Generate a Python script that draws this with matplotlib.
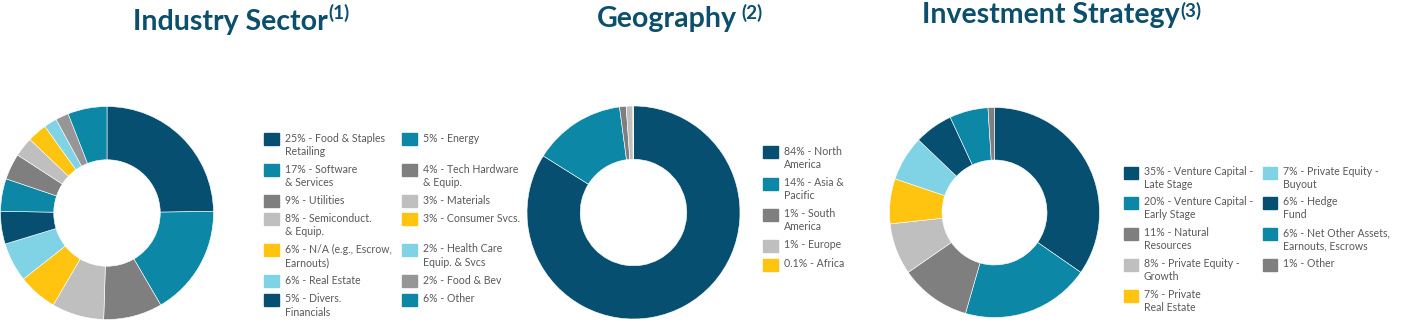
import matplotlib
matplotlib.use("Agg")
import matplotlib.pyplot as plt
from matplotlib.patches import Rectangle

W, H = 1405, 328
TITLE_COLOR = "#0B4F6C"
TEXT_COLOR = "#595959"

NAVY = "#064F71"
TEAL = "#0C87A5"
GRAY = "#7F7F7F"
LGRAY = "#BFBFBF"
YELLOW = "#FFC40F"
LBLUE = "#80D2E5"
MGRAY = "#969696"

# ---- data ----
industry_labels = ["25% - Food & Staples\nRetailing", "17% - Software\n& Services", "9% - Utilities",
                   "8% - Semiconduct.\n& Equip.", "6% - N/A (e.g., Escrow,\nEarnouts)", "6% - Real Estate",
                   "5% - Divers.\nFinancials", "5% - Energy", "4% - Tech Hardware\n& Equip.",
                   "3% - Materials", "3% - Consumer Svcs.", "2% - Health Care\nEquip. & Svcs",
                   "2% - Food & Bev", "6% - Other"]
industry_values = [25, 17, 9, 8, 6, 6, 5, 5, 4, 3, 3, 2, 2, 6]
industry_colors = [NAVY, TEAL, GRAY, LGRAY, YELLOW, LBLUE, NAVY, TEAL, GRAY, LGRAY, YELLOW, LBLUE, MGRAY, TEAL]

geo_labels = ["84% - North\nAmerica", "14% - Asia &\nPacific", "1% - South\nAmerica", "1% - Europe", "0.1% - Africa"]
geo_values = [84, 14, 1, 1, 0.1]
geo_colors = [NAVY, TEAL, GRAY, LGRAY, YELLOW]

strategy_labels = ["35% - Venture Capital -\nLate Stage", "20% - Venture Capital -\nEarly Stage",
                   "11% - Natural\nResources", "8% - Private Equity -\nGrowth", "7% - Private\nReal Estate",
                   "7% - Private Equity -\nBuyout", "6% - Hedge\nFund", "6% - Net Other Assets,\nEarnouts, Escrows",
                   "1% - Other"]
strategy_values = [35, 20, 11, 8, 7, 7, 6, 6, 1]
strategy_colors = [NAVY, TEAL, GRAY, LGRAY, YELLOW, LBLUE, NAVY, TEAL, GRAY]


def fx(x):
    return x / W


def fy(y):
    return 1 - y / H


def donut(fig, cx, cy, r, values, colors):
    ax = fig.add_axes([fx(cx - r), fy(cy + r), 2 * r / W, 2 * r / H])
    ax.pie(values, colors=colors, startangle=90, counterclock=False, radius=1,
           wedgeprops=dict(width=0.5, edgecolor="white", linewidth=0.4))
    ax.set_xlim(-1, 1)
    ax.set_ylim(-1, 1)
    ax.axis("off")
    return ax


def legend(fig, labels, colors, cols_x, rows_y, pw=15):
    n_rows = len(rows_y)
    for i, (lab, col) in enumerate(zip(labels, colors)):
        c, r = divmod(i, n_rows)
        x, y = cols_x[c], rows_y[r]
        fig.patches.append(Rectangle((fx(x), fy(y + 6)), pw / W, 12 / H, color=col,
                                     transform=fig.transFigure, figure=fig))
        fig.text(fx(x + pw + 6), fy(y - 6.5), lab, fontsize=7.6, color=TEXT_COLOR, family="Lato",
                 va="top", ha="left", linespacing=1.25)


def title(fig, x, y, main, sup, gap=0.0, rise=10):
    t = fig.text(fx(x), fy(y), main, fontsize=20.5, fontweight="bold", color=TITLE_COLOR,
                 family="Lato", va="baseline", ha="left")
    r = fig.canvas.get_renderer()
    bb = t.get_window_extent(renderer=r)
    fig.text(bb.x1 / W + fx(gap), fy(y - rise), sup, fontsize=13.5, fontweight="bold",
             color=TITLE_COLOR, family="Lato", va="baseline", ha="left")


fig = plt.figure(figsize=(W / 100, H / 100), dpi=100)

donut(fig, 107, 213, 106.5, industry_values, industry_colors)
donut(fig, 633.5, 212.5, 106.5, geo_values, geo_colors)
donut(fig, 994.5, 212.5, 105, strategy_values, strategy_colors)

legend(fig, industry_labels, industry_colors, [264, 402], [139, 170, 201, 219, 250, 281, 300])
legend(fig, geo_labels, geo_colors, [763], [152.5, 183.5, 214.5, 245.5, 264.5])
legend(fig, strategy_labels, strategy_colors, [1124, 1263], [172.5, 202.5, 233.5, 264.5, 295.5], pw=14)

title(fig, 133, 30, "Industry Sector", "(1)", gap=1, rise=11)
title(fig, 597, 27, "Geography", "(2)", gap=4, rise=8)
title(fig, 922, 23, "Investment Strategy", "(3)", gap=1, rise=6)

fig.savefig("out.png", dpi=100)
